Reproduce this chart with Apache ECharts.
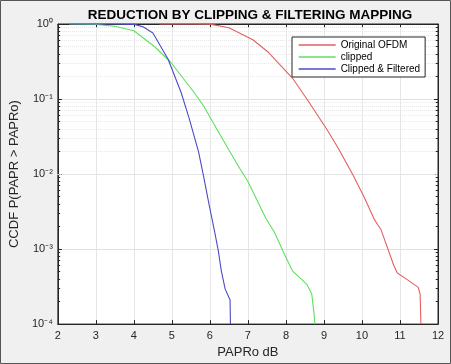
<!DOCTYPE html>
<html>
<head>
<meta charset="utf-8">
<title>CCDF</title>
<script src="https://cdn.jsdelivr.net/npm/echarts@6/dist/echarts.min.js"></script>
<style>
  html, body { margin: 0; padding: 0; background: #f0f0f0; }
  #chart { width: 451px; height: 364px; }
</style>
</head>
<body>
<div id="chart"></div>
<script>
// values
var seriesNames = ['Original OFDM', 'clipped', 'Clipped & Filtered'];
var seriesColors = ['#e4605f', '#5ee05e', '#4b4bc8'];

var origX = [4.67, 5.5, 6.0, 6.5, 7.13, 7.52, 8.17, 8.55, 9.07, 9.38, 9.77, 10.05, 10.32, 10.42, 10.5, 10.83, 10.93, 11.2, 11.48, 11.53, 11.55];
var origY = [1, 1, 0.995, 0.891, 0.617, 0.427, 0.1905, 0.1, 0.0398, 0.0219, 0.00955, 0.00501, 0.00251, 0.00209, 0.00182, 6.17e-4, 4.79e-4, 3.89e-4, 3.09e-4, 2.51e-4, 1e-4];

var clipX = [2.3, 3.0, 3.5, 4.0, 4.54, 4.97, 5.58, 5.83, 6.18, 6.5, 6.79, 7.0, 7.47, 7.7, 7.96, 8.17, 8.55, 8.68, 8.74, 8.76];
var clipY = [1, 0.9886, 0.933, 0.813, 0.501, 0.309, 0.123, 0.0813, 0.0398, 0.0209, 0.01175, 0.00794, 0.00257, 0.00166, 8.51e-4, 5.13e-4, 3.39e-4, 2.51e-4, 1.35e-4, 1e-4];

var filtX = [2.3, 3.5, 4.02, 4.25, 4.5, 4.9, 5.24, 5.45, 5.7, 5.83, 5.96, 6.14, 6.22, 6.3, 6.4, 6.53, 6.54];
var filtY = [1, 1, 0.9886, 0.912, 0.759, 0.339, 0.123, 0.0562, 0.01995, 0.00955, 0.00437, 0.00155, 9.55e-4, 5.13e-4, 2.95e-4, 2.09e-4, 1e-4];

var yDecades = [1e-4, 1e-3, 1e-2, 1e-1, 1];
var supers = { '0': '⁰', '-1': '⁻¹', '-2': '⁻²', '-3': '⁻³', '-4': '⁻⁴' };

function pairs(xs, ys) {
  var out = [];
  for (var i = 0; i < xs.length; i++) out.push([xs[i], ys[i]]);
  return out;
}

// minor grid lines 2..9 in every decade, plus short minor ticks on both sides
var minorLines = [];
var minorTicks = [];
for (var d = 0; d < yDecades.length - 1; d++) {
  for (var m = 2; m <= 9; m++) {
    var v = yDecades[d] * m;
    minorLines.push({ yAxis: v });
    minorTicks.push([{ coord: [2, v] }, { coord: [2.06, v] }]);
    minorTicks.push([{ coord: [11.94, v] }, { coord: [12, v] }]);
  }
}

var axisColor = '#262626';
var font = 'Liberation Sans, Arial, sans-serif';

var chart = echarts.init(document.getElementById('chart'));
chart.setOption({
  backgroundColor: '#f0f0f0',
  animation: false,
  title: {
    text: 'REDUCTION BY CLIPPING & FILTERING MAPPING',
    left: 245, top: 3, textAlign: 'center',
    textStyle: { fontFamily: font, fontSize: 13.5, fontWeight: 'bold', color: '#000' }
  },
  grid: {
    left: 52, right: 13, top: 24, bottom: 37,
    show: true, backgroundColor: '#fff', borderColor: axisColor, borderWidth: 1
  },
  legend: {
    orient: 'vertical', left: 292, top: 37, z: 10,
    data: seriesNames,
    backgroundColor: '#fff', borderColor: axisColor, borderWidth: 1,
    padding: [3, 5, 3, 6],
    itemWidth: 37, itemHeight: 10, itemGap: 2, textGap: 4,
    itemStyle: { opacity: 0 },
    lineStyle: { width: 1.3 },
    textStyle: { fontFamily: font, fontSize: 10, color: '#000' }
  },
  xAxis: [{
    type: 'value', min: 2, max: 12, interval: 1,
    name: 'PAPRo dB', nameLocation: 'middle', nameGap: 21,
    nameTextStyle: { fontFamily: font, fontSize: 13, color: axisColor },
    axisLine: { onZero: false, lineStyle: { color: axisColor } },
    axisTick: { inside: true, length: 4, lineStyle: { color: axisColor } },
    axisLabel: { fontFamily: font, fontSize: 11, color: axisColor, margin: 6 },
    splitLine: { show: true, lineStyle: { color: '#e6e6e6' } }
  }, {
    type: 'value', min: 2, max: 12, interval: 1, position: 'top',
    axisLine: { onZero: false, lineStyle: { color: axisColor } },
    axisTick: { inside: true, length: 4, lineStyle: { color: axisColor } },
    axisLabel: { show: false }, splitLine: { show: false }
  }],
  yAxis: [{
    type: 'log', min: 1e-4, max: 1, logBase: 10,
    name: 'CCDF P(PAPR > PAPRo)', nameLocation: 'middle', nameGap: 33,
    nameTextStyle: { fontFamily: font, fontSize: 13, color: axisColor },
    axisLine: { onZero: false, lineStyle: { color: axisColor } },
    axisTick: { inside: true, length: 4, lineStyle: { color: axisColor } },
    axisLabel: {
      fontFamily: font, fontSize: 11, color: axisColor, margin: 5,
      formatter: function (v) {
        var e = Math.round(Math.log10(v));
        return '10' + supers[String(e)];
      }
    },
    splitLine: { show: true, lineStyle: { color: '#e0e0e0' } }
  }, {
    type: 'log', min: 1e-4, max: 1, logBase: 10, position: 'right',
    axisLine: { onZero: false, lineStyle: { color: axisColor } },
    axisTick: { inside: true, length: 4, lineStyle: { color: axisColor } },
    axisLabel: { show: false }, splitLine: { show: false }
  }],
  series: [{
    name: seriesNames[0], type: 'line', data: pairs(origX, origY),
    symbol: 'none', lineStyle: { color: seriesColors[0], width: 1.1 }, itemStyle: { color: seriesColors[0] }
  }, {
    name: seriesNames[1], type: 'line', data: pairs(clipX, clipY),
    symbol: 'none', lineStyle: { color: seriesColors[1], width: 1.1 }, itemStyle: { color: seriesColors[1] }
  }, {
    name: seriesNames[2], type: 'line', data: pairs(filtX, filtY),
    symbol: 'none', lineStyle: { color: seriesColors[2], width: 1.1 }, itemStyle: { color: seriesColors[2] }
  }, {
    type: 'line', data: [], silent: true, z: 1,
    markLine: {
      silent: true, z: 1, symbol: 'none', label: { show: false },
      lineStyle: { color: '#e6e6e6', type: 'dotted', width: 1 },
      data: minorLines
    }
  }, {
    type: 'line', data: [], silent: true, z: 3,
    markLine: {
      silent: true, z: 3, symbol: 'none', label: { show: false },
      lineStyle: { color: axisColor, type: 'solid', width: 1 },
      data: minorTicks
    }
  }],
  graphic: [{
    type: 'rect', shape: { x: 0.5, y: 0.5, width: 450, height: 363 },
    style: { fill: 'none', stroke: '#555', lineWidth: 1 }, silent: true
  }]
});
</script>
</body>
</html>
